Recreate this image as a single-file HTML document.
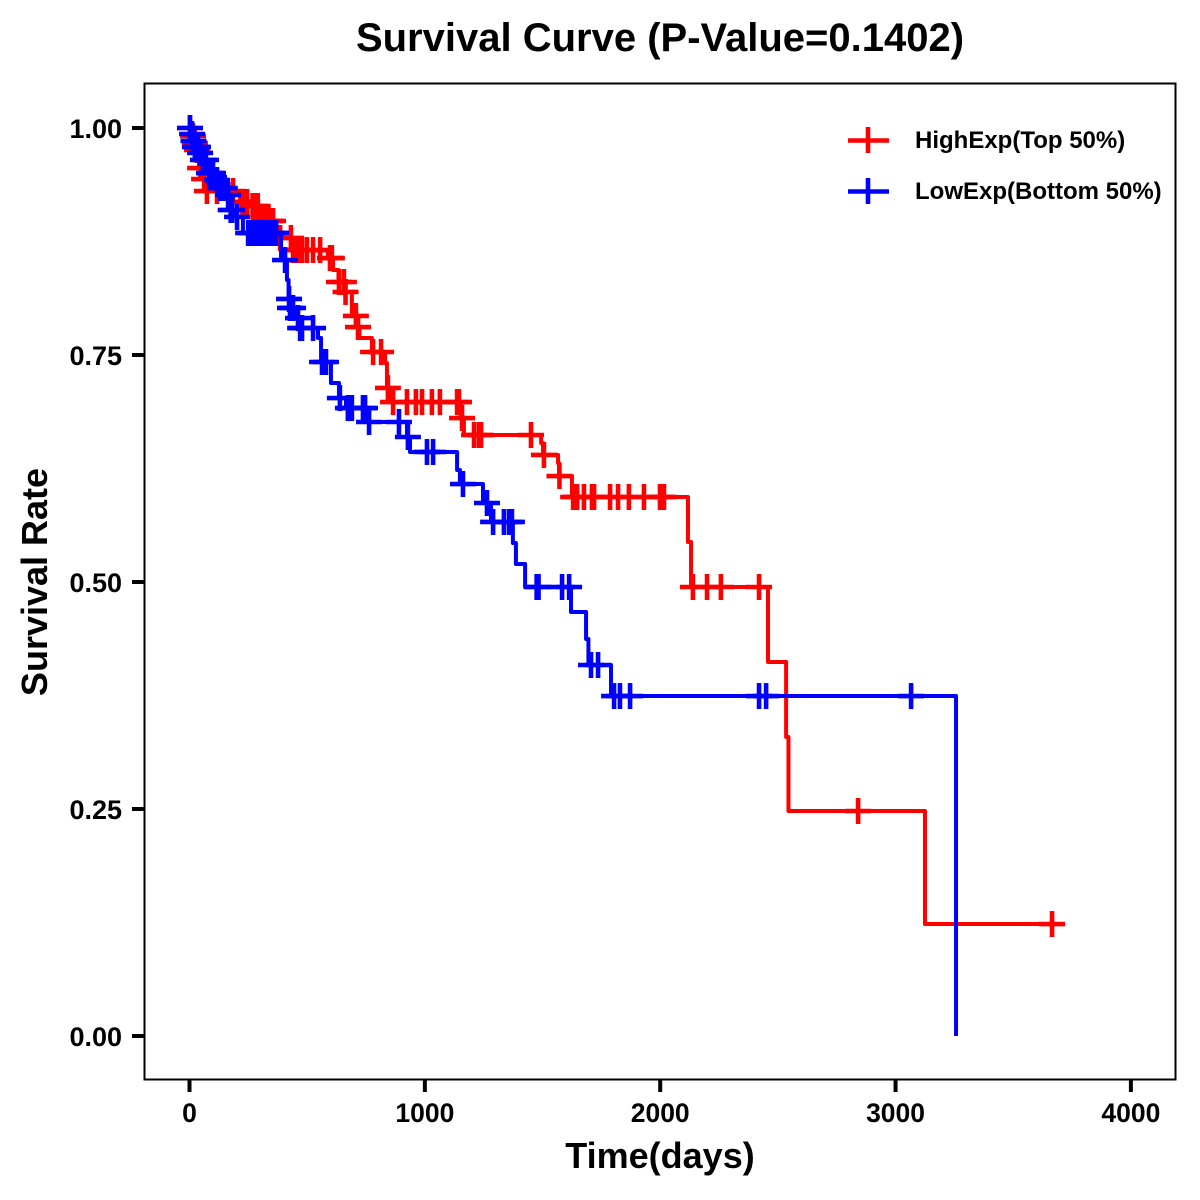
<!DOCTYPE html>
<html lang="en">
<head>
<meta charset="utf-8">
<title>Survival Curve</title>
<style>
html,body{margin:0;padding:0;background:#fff;}
svg{display:block;font-family:"Liberation Sans",Arial,sans-serif;font-weight:bold;fill:#000;}
</style>
</head>
<body>
<svg id="chart" xmlns="http://www.w3.org/2000/svg" width="1200" height="1200" viewBox="0 0 1200 1200">
  <rect x="0" y="0" width="1200" height="1200" fill="#fff"/>
  <text x="660" y="51" font-size="40" text-anchor="middle">Survival Curve (P-Value=0.1402)</text>
  <text x="660" y="1168" font-size="36" text-anchor="middle">Time(days)</text>
  <text x="47" y="582" font-size="36" text-anchor="middle" transform="rotate(-90 47 582)">Survival Rate</text>
  <g id="x-axis"></g>
  <g id="y-axis"></g>
  <g id="series"></g>
  <rect x="144.5" y="83.5" width="1031" height="996" fill="none" stroke="#000" stroke-width="2"/>
  <g>
    <g>
      <line x1="848" x2="889" y1="140.5" y2="140.5" stroke="#ff0000" stroke-width="4.6"/>
      <line x1="868" x2="868" y1="127" y2="153" stroke="#ff0000" stroke-width="4.6"/>
      <text x="915" y="148" font-size="24">HighExp(Top 50%)</text>
    </g>
    <g>
      <line x1="848" x2="889" y1="191.5" y2="191.5" stroke="#0000ff" stroke-width="4.6"/>
      <line x1="868" x2="868" y1="178" y2="204" stroke="#0000ff" stroke-width="4.6"/>
      <text x="915" y="199" font-size="24">LowExp(Bottom 50%)</text>
    </g>
  </g>
</svg>
<script>
const xTickValues = [0, 1000, 2000, 3000, 4000];
const xTickLabels = ['0', '1000', '2000', '3000', '4000'];
const yTickValues = [0, 0.25, 0.5, 0.75, 1];
const yTickLabels = ['0.00', '0.25', '0.50', '0.75', '1.00'];

const highTimes = [0, 11, 19, 28, 36, 40, 57, 70, 215, 257, 308, 368, 436, 588, 610, 633, 660, 690, 712, 722, 775, 831, 839, 856, 1154, 1166, 1494, 1502, 1566, 1570, 1625, 2118, 2131, 2458, 2535, 2545, 3125, 3665];
const highSurv = [1, 0.9912, 0.9835, 0.9758, 0.9681, 0.9559, 0.9438, 0.9306, 0.9185, 0.9141, 0.8976, 0.8789, 0.8656, 0.8568, 0.8436, 0.8304, 0.8194, 0.793, 0.7808, 0.7687, 0.7533, 0.7412, 0.7137, 0.6982, 0.6806, 0.6619, 0.6531, 0.6399, 0.6311, 0.6167, 0.5936, 0.5441, 0.4945, 0.4119, 0.3293, 0.2478, 0.1233, 0.1233];
const highCensorTimes = [2, 15, 23, 32, 45, 62, 74, 117, 185, 225, 236, 245, 268, 278, 290, 315, 325, 340, 355, 385, 431, 440, 452, 465, 478, 499, 525, 555, 597, 605, 635, 656, 663, 707, 716, 780, 814, 843, 865, 924, 962, 988, 1030, 1064, 1137, 1145, 1158, 1209, 1230, 1239, 1451, 1506, 1572, 1630, 1638, 1647, 1676, 1710, 1719, 1787, 1821, 1867, 1931, 1999, 2008, 2016, 2139, 2199, 2258, 2420, 2841, 3665];

const lowTimes = [0, 6, 15, 21, 40, 53, 79, 108, 125, 151, 172, 193, 227, 389, 414, 421, 425, 453, 465, 546, 559, 601, 635, 665, 754, 924, 937, 1137, 1149, 1247, 1281, 1374, 1387, 1426, 1621, 1685, 1695, 1791, 3257];
const lowSurv = [1, 0.9934, 0.9857, 0.9791, 0.9725, 0.9648, 0.9504, 0.9427, 0.9339, 0.9262, 0.9097, 0.902, 0.8844, 0.8546, 0.8326, 0.8117, 0.8018, 0.7907, 0.7797, 0.7687, 0.7423, 0.7192, 0.7026, 0.6916, 0.6762, 0.6597, 0.6432, 0.6233, 0.6079, 0.587, 0.5661, 0.543, 0.5198, 0.4945, 0.467, 0.4372, 0.4086, 0.3744, 0];
const lowCensorTimes = [2, 11, 17, 23, 30, 36, 45, 57, 70, 83, 92, 100, 117, 130, 138, 150, 164, 175, 181, 202, 249, 257, 266, 274, 282, 291, 300, 308, 321, 334, 342, 351, 359, 368, 406, 423, 427, 440, 461, 470, 478, 525, 563, 580, 639, 673, 682, 690, 737, 746, 763, 890, 928, 1009, 1035, 1162, 1264, 1290, 1336, 1358, 1370, 1475, 1483, 1583, 1613, 1706, 1736, 1804, 1829, 1872, 2420, 2450, 3066];

const NS = 'http://www.w3.org/2000/svg';
function xScale(t) { return 189.5 + t * 0.23535; }
function yScale(s) { return 1036 - s * 908; }

function makeLine(parent, x1, y1, x2, y2, color, width) {
  const el = document.createElementNS(NS, 'line');
  el.setAttribute('x1', x1);
  el.setAttribute('y1', y1);
  el.setAttribute('x2', x2);
  el.setAttribute('y2', y2);
  el.setAttribute('stroke', color);
  el.setAttribute('stroke-width', width);
  parent.appendChild(el);
  return el;
}
function makeText(parent, x, y, size, anchor, content) {
  const el = document.createElementNS(NS, 'text');
  el.setAttribute('x', x);
  el.setAttribute('y', y);
  el.setAttribute('font-size', size);
  el.setAttribute('text-anchor', anchor);
  el.textContent = content;
  parent.appendChild(el);
  return el;
}

const xAxisGroup = document.getElementById('x-axis');
xTickValues.forEach(function (v, i) {
  const px = xScale(v);
  const tick = makeLine(xAxisGroup, px, 1080, px, 1092, '#000', 4);
  
  
  const label = makeText(xAxisGroup, px, 1122, 26.5, 'middle', xTickLabels[i]);
  
  
});

const yAxisGroup = document.getElementById('y-axis');
yTickValues.forEach(function (v, i) {
  const py = yScale(v);
  const tick = makeLine(yAxisGroup, 132, py, 144, py, '#000', 4);
  
  
  const label = makeText(yAxisGroup, 122, py + 10, 27, 'end', yTickLabels[i]);
  
  
});

function survivalAt(times, surv, t) {
  let s = surv[0];
  for (let i = 0; i < times.length; i++) {
    if (times[i] <= t) s = surv[i];
  }
  return s;
}
function stepPath(times, surv) {
  let d = 'M' + xScale(times[0]) + ' ' + yScale(surv[0]);
  for (let i = 1; i < times.length; i++) {
    d += ' L' + xScale(times[i]) + ' ' + yScale(surv[i - 1]);
    d += ' L' + xScale(times[i]) + ' ' + yScale(surv[i]);
  }
  return d;
}

const seriesLayer = document.getElementById('series');
function drawSeries(times, surv, censors, color, seriesName) {
  const group = document.createElementNS(NS, 'g');
  
  
  const path = document.createElementNS(NS, 'path');
  path.setAttribute('d', stepPath(times, surv));
  path.setAttribute('fill', 'none');
  path.setAttribute('stroke', color);
  path.setAttribute('stroke-width', 4);
  path.setAttribute('stroke-linejoin', 'round');
  
  
  group.appendChild(path);
  censors.forEach(function (t) {
    const cx = xScale(t);
    const cy = yScale(survivalAt(times, surv, t));
    const h = makeLine(group, cx - 13, cy, cx + 13, cy, color, 4.6);
    
    
    const v = makeLine(group, cx, cy - 13, cx, cy + 13, color, 4.6);
    
    
  });
  seriesLayer.appendChild(group);
}
drawSeries(highTimes, highSurv, highCensorTimes, '#ff0000', 'high-exp');
drawSeries(lowTimes, lowSurv, lowCensorTimes, '#0000ff', 'low-exp');
</script>
</body>
</html>
